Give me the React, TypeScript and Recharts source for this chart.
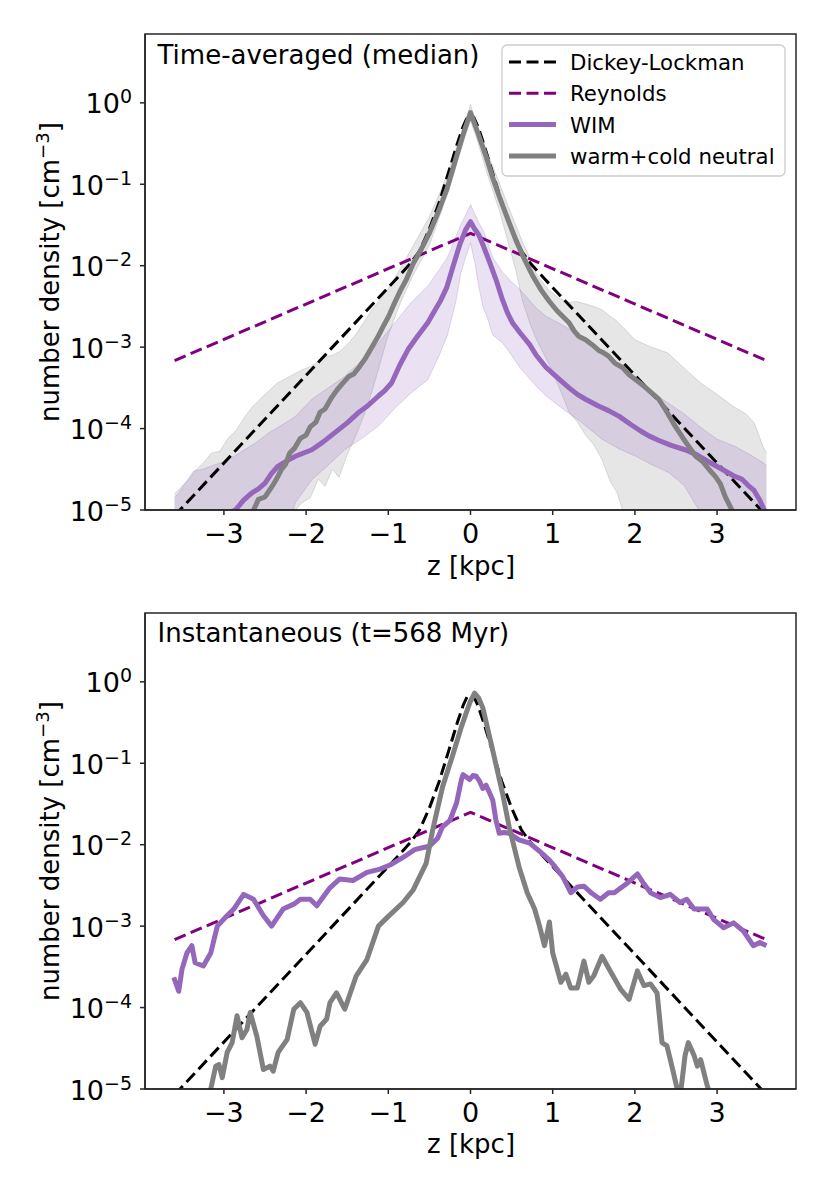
import React from 'react';
import { ComposedChart, Line, Area, XAxis, YAxis } from 'recharts';

// values: [z in kpc, log10 n in cm^-3]
const dickeyLockman = [
  [-3.6, -5.07], [-0.9, -2.16], [-0.72, -1.96], [-0.62, -1.82], [-0.5, -1.55], [-0.38, -1.22],
  [-0.26, -0.83], [-0.16, -0.5], [-0.09, -0.29], [-0.04, -0.18], [0, -0.16], [0.04, -0.18],
  [0.09, -0.29], [0.16, -0.5], [0.26, -0.83], [0.38, -1.22], [0.5, -1.55], [0.62, -1.82],
  [0.72, -1.96], [0.9, -2.16], [3.6, -5.07],
];

const reynolds = [[-3.6, -3.166], [0, -1.602], [3.6, -3.166]];

const grayMedianAvg = [
  [-3.6, -5.9], [-3.0, -5.6], [-2.64, -5.0], [-2.58, -4.87], [-2.5, -4.84], [-2.42, -4.72],
  [-2.36, -4.62], [-2.3, -4.5], [-2.25, -4.44], [-2.2, -4.3], [-2.14, -4.24], [-2.07, -4.12],
  [-2.0, -4.08], [-1.95, -3.98], [-1.88, -3.92], [-1.83, -3.8], [-1.77, -3.76], [-1.69, -3.62],
  [-1.62, -3.52], [-1.55, -3.44], [-1.48, -3.36], [-1.42, -3.33], [-1.35, -3.24], [-1.28, -3.14],
  [-1.2, -3.0], [-1.13, -2.88], [-1.07, -2.76], [-1.0, -2.63], [-0.92, -2.45], [-0.85, -2.3],
  [-0.78, -2.17], [-0.7, -1.98], [-0.6, -1.8], [-0.5, -1.6], [-0.4, -1.36], [-0.29, -1.07],
  [-0.17, -0.66], [-0.08, -0.36], [0, -0.12], [0.08, -0.34], [0.19, -0.66], [0.27, -0.92],
  [0.35, -1.15], [0.45, -1.42], [0.55, -1.68], [0.66, -1.93], [0.76, -2.13], [0.86, -2.3],
  [0.96, -2.44], [1.05, -2.55], [1.12, -2.62], [1.2, -2.7], [1.26, -2.8], [1.32, -2.87],
  [1.4, -2.91], [1.48, -2.97], [1.56, -3.04], [1.62, -3.07], [1.68, -3.11], [1.76, -3.2],
  [1.85, -3.25], [1.93, -3.34], [2.01, -3.4], [2.1, -3.47], [2.2, -3.56], [2.29, -3.64],
  [2.38, -3.78], [2.49, -3.97], [2.6, -4.14], [2.67, -4.24], [2.74, -4.34], [2.82, -4.4],
  [2.9, -4.5], [2.98, -4.59], [3.04, -4.68], [3.1, -4.84], [3.18, -5.0], [3.3, -5.3], [3.6, -5.8],
];

const wimMedianAvg = [
  [-3.6, -5.4], [-2.86, -5.0], [-2.76, -4.88], [-2.66, -4.79], [-2.58, -4.74], [-2.5, -4.67],
  [-2.42, -4.55], [-2.34, -4.46], [-2.24, -4.4], [-2.13, -4.34], [-2.03, -4.3], [-1.93, -4.26],
  [-1.8, -4.17], [-1.65, -4.05], [-1.5, -3.93], [-1.37, -3.81], [-1.25, -3.72], [-1.12, -3.6],
  [-1.04, -3.53], [-0.96, -3.44], [-0.86, -3.22], [-0.76, -3.03], [-0.64, -2.86], [-0.52, -2.7],
  [-0.44, -2.56], [-0.36, -2.42], [-0.29, -2.27], [-0.21, -2.0], [-0.13, -1.74], [-0.06, -1.56],
  [0, -1.46], [0.05, -1.55], [0.1, -1.62], [0.15, -1.74], [0.23, -1.95], [0.31, -2.17],
  [0.39, -2.42], [0.45, -2.58], [0.51, -2.7], [0.6, -2.82], [0.72, -2.97], [0.8, -3.1],
  [0.92, -3.25], [1.04, -3.36], [1.2, -3.5], [1.3, -3.58], [1.4, -3.64], [1.55, -3.72],
  [1.68, -3.78], [1.81, -3.85], [1.95, -3.95], [2.07, -4.03], [2.17, -4.09], [2.3, -4.15],
  [2.45, -4.21], [2.61, -4.26], [2.75, -4.32], [2.9, -4.41], [3.06, -4.5], [3.2, -4.58],
  [3.3, -4.62], [3.38, -4.7], [3.45, -4.76], [3.52, -4.88], [3.6, -5.06],
];

// [z, log10 low, log10 high]
const grayBandAvg = [
  [-3.6, -6.5, -4.8], [-3.5, -6.5, -4.7], [-3.42, -6.5, -4.62], [-3.35, -6.5, -4.52],
  [-3.25, -6.5, -4.42], [-3.15, -6.5, -4.3], [-3.05, -6.5, -4.28], [-2.95, -6.5, -4.12],
  [-2.85, -6.5, -4.02], [-2.75, -6.5, -3.86], [-2.65, -6.5, -3.73], [-2.5, -6.5, -3.58],
  [-2.35, -5.6, -3.44], [-2.2, -5.1, -3.36], [-2.13, -5.0, -3.32], [-2.05, -4.91, -3.28],
  [-1.95, -4.85, -3.24], [-1.85, -4.62, -3.18], [-1.77, -4.71, -3.12], [-1.68, -4.5, -3.1],
  [-1.6, -4.6, -3.06], [-1.5, -4.32, -2.97], [-1.4, -4.1, -2.85], [-1.3, -3.85, -2.7],
  [-1.2, -3.55, -2.54], [-1.1, -3.2, -2.42], [-1.0, -2.85, -2.28], [-0.85, -2.45, -2.03],
  [-0.7, -2.12, -1.76], [-0.5, -1.75, -1.4], [-0.35, -1.32, -1.05], [-0.2, -0.86, -0.64],
  [-0.08, -0.45, -0.3], [0, -0.22, -0.02], [0.08, -0.45, -0.3], [0.2, -0.86, -0.6],
  [0.35, -1.32, -0.98], [0.45, -1.68, -1.25], [0.55, -2.05, -1.5], [0.63, -2.42, -1.7],
  [0.72, -2.7, -1.9], [0.8, -2.9, -2.1], [0.95, -3.2, -2.3], [1.08, -3.5, -2.4],
  [1.2, -3.8, -2.45], [1.3, -3.92, -2.44], [1.4, -4.08, -2.47], [1.5, -4.2, -2.5],
  [1.6, -4.38, -2.54], [1.7, -4.65, -2.62], [1.78, -4.78, -2.68], [1.85, -5.0, -2.75],
  [2.0, -5.3, -2.91], [2.2, -6.5, -3.0], [2.4, -6.5, -3.07], [2.6, -6.5, -3.26],
  [2.8, -6.5, -3.44], [3.0, -6.5, -3.58], [3.2, -6.5, -3.73], [3.35, -6.5, -3.82],
  [3.45, -6.5, -3.93], [3.56, -6.5, -4.22], [3.6, -6.5, -4.3],
];

const wimBandAvg = [
  [-3.6, -6.5, -4.85], [-3.55, -6.5, -4.79], [-3.47, -6.5, -4.67], [-3.37, -6.5, -4.52],
  [-3.26, -6.5, -4.5], [-3.1, -6.5, -4.44], [-2.94, -6.5, -4.38], [-2.78, -6.5, -4.28],
  [-2.62, -6.5, -4.18], [-2.45, -6.5, -4.05], [-2.25, -5.3, -3.93], [-2.13, -4.91, -3.85],
  [-1.93, -4.63, -3.64], [-1.73, -4.45, -3.5], [-1.53, -4.26, -3.36], [-1.32, -4.12, -3.16],
  [-1.12, -3.97, -2.95], [-0.92, -3.75, -2.7], [-0.72, -3.56, -2.45], [-0.52, -3.4, -2.25],
  [-0.38, -3.1, -2.05], [-0.28, -2.85, -1.9], [-0.18, -2.45, -1.65], [-0.12, -2.1, -1.5],
  [-0.06, -1.9, -1.38], [0, -1.72, -1.25], [0.05, -1.95, -1.36], [0.1, -2.25, -1.47],
  [0.15, -2.5, -1.56], [0.21, -2.65, -1.72], [0.27, -2.85, -1.9], [0.39, -2.95, -2.08],
  [0.5, -3.1, -2.2], [0.6, -3.25, -2.29], [0.8, -3.48, -2.52], [0.92, -3.6, -2.62],
  [1.1, -3.74, -2.72], [1.32, -3.9, -2.85], [1.6, -4.13, -3.05], [1.81, -4.25, -3.24],
  [2.01, -4.34, -3.4], [2.2, -4.44, -3.55], [2.41, -4.54, -3.69], [2.6, -4.7, -3.82],
  [2.7, -4.87, -3.9], [2.78, -5.0, -3.97], [3.0, -5.3, -4.13], [3.22, -6.5, -4.22],
  [3.4, -6.5, -4.32], [3.56, -6.5, -4.42], [3.6, -6.5, -4.45],
];

const wimInst = [
  [-3.61, -3.63], [-3.55, -3.8], [-3.51, -3.53], [-3.45, -3.33], [-3.39, -3.24], [-3.35, -3.45],
  [-3.25, -3.49], [-3.16, -3.33], [-3.08, -3.0], [-2.96, -2.87], [-2.88, -2.79], [-2.76, -2.61],
  [-2.64, -2.67], [-2.52, -2.87], [-2.42, -3.0], [-2.28, -2.79], [-2.15, -2.73], [-2.07, -2.67],
  [-1.95, -2.67], [-1.87, -2.75], [-1.71, -2.53], [-1.59, -2.42], [-1.43, -2.44], [-1.26, -2.34],
  [-1.1, -2.3], [-0.98, -2.25], [-0.78, -2.13], [-0.68, -2.06], [-0.6, -2.04], [-0.5, -2.02],
  [-0.4, -1.92], [-0.34, -1.78], [-0.25, -1.7], [-0.17, -1.49], [-0.11, -1.2], [-0.09, -1.14],
  [-0.05, -1.17], [-0.01, -1.2], [0.03, -1.15], [0.07, -1.16], [0.11, -1.22], [0.15, -1.31],
  [0.19, -1.27], [0.23, -1.36], [0.27, -1.45], [0.31, -1.7], [0.35, -1.86], [0.41, -1.85],
  [0.47, -1.86], [0.59, -1.94], [0.72, -1.98], [0.84, -2.08], [0.96, -2.19], [1.02, -2.26],
  [1.12, -2.39], [1.22, -2.59], [1.3, -2.52], [1.38, -2.51], [1.48, -2.6], [1.58, -2.67],
  [1.68, -2.59], [1.75, -2.59], [1.91, -2.47], [2.03, -2.36], [2.11, -2.48], [2.19, -2.59],
  [2.31, -2.65], [2.43, -2.61], [2.55, -2.71], [2.63, -2.67], [2.72, -2.79], [2.88, -2.79],
  [2.96, -2.92], [3.08, -3.02], [3.2, -2.96], [3.32, -3.06], [3.44, -3.24], [3.52, -3.2],
  [3.6, -3.24],
];

const grayInst = [
  [-3.6, -5.6], [-3.2, -5.3], [-3.16, -5.0], [-3.1, -4.72], [-3.06, -4.7], [-3.02, -4.86],
  [-2.96, -4.55], [-2.9, -4.43], [-2.84, -4.1], [-2.78, -4.37], [-2.72, -4.27], [-2.68, -4.06],
  [-2.6, -4.35], [-2.52, -4.76], [-2.44, -4.72], [-2.4, -4.78], [-2.34, -4.55], [-2.23, -4.39],
  [-2.15, -4.02], [-2.07, -3.94], [-1.99, -4.06], [-1.89, -4.45], [-1.83, -4.23], [-1.75, -4.14],
  [-1.71, -3.94], [-1.63, -3.82], [-1.53, -4.02], [-1.39, -3.61], [-1.26, -3.41], [-1.12, -3.0],
  [-1.0, -2.88], [-0.82, -2.71], [-0.7, -2.56], [-0.54, -2.23], [-0.46, -1.82], [-0.34, -1.29],
  [-0.21, -0.88], [-0.11, -0.55], [-0.01, -0.26], [0.05, -0.14], [0.1, -0.2], [0.15, -0.32],
  [0.27, -0.84], [0.39, -1.37], [0.47, -1.78], [0.59, -2.27], [0.69, -2.59], [0.78, -2.79],
  [0.84, -3.0], [0.9, -3.24], [0.96, -2.95], [1.0, -3.33], [1.1, -3.69], [1.16, -3.59],
  [1.22, -3.76], [1.3, -3.76], [1.38, -3.43], [1.44, -3.69], [1.5, -3.61], [1.6, -3.37],
  [1.71, -3.57], [1.83, -3.78], [1.93, -3.9], [2.03, -3.55], [2.11, -3.73], [2.19, -3.71],
  [2.27, -3.82], [2.33, -4.43], [2.39, -4.47], [2.45, -4.72], [2.51, -4.98], [2.55, -5.1],
  [2.61, -4.59], [2.65, -4.43], [2.72, -4.59], [2.76, -4.72], [2.8, -4.64], [2.88, -4.96],
  [3.0, -5.3], [3.6, -5.6],
];

const zTicks = [-3, -2, -1, 0, 1, 2, 3];
const nTicks = [1e-5, 1e-4, 1e-3, 1e-2, 1e-1, 1];
const minorMantissas = [2, 3, 4, 5, 6, 7, 8, 9];
const nMinorTicks = nTicks.flatMap((d) => minorMantissas.map((m) => m * d)).filter((v) => v <= 7);
const legendLabels = ['Dickey-Lockman', 'Reynolds', 'WIM', 'warm+cold neutral'];

const FONT = '"DejaVu Sans", Verdana, sans-serif';
const AX = '#262626';
const W = 830;
const H = 593;
const Z_DOMAIN = [-3.96, 3.96];
const N_DOMAIN = [1e-5, 7];

const toRows = (pts: number[][]) => pts.map(([z, lg]) => ({ z, n: Math.pow(10, lg) }));
const toBand = (pts: number[][]) =>
  pts.map(([z, lo, hi]) => ({ z, range: [Math.pow(10, lo), Math.pow(10, hi)] }));

const fmtZ = (v: number) => (v < 0 ? `\u2212${-v}` : `${v}`);

const LogTick = (props: any) => {
  const { x, y, payload } = props;
  const e = Math.round(Math.log10(payload.value));
  const sup = e < 0 ? `\u2212${-e}` : `${e}`;
  return (
    <text x={x - 6} y={y} textAnchor="end" fontFamily={FONT} fill="#000">
      <tspan fontSize={27} dy={10.5}>10</tspan>
      <tspan fontSize={19} dy={-10}>{sup}</tspan>
    </text>
  );
};

const styles = {
  dl: { stroke: '#000000', strokeWidth: 3, strokeDasharray: '12 5.5' },
  rey: { stroke: '#800080', strokeWidth: 3, strokeDasharray: '12 5.5' },
  wim: { stroke: '#9467bd', strokeWidth: 5 },
  gray: { stroke: '#808080', strokeWidth: 5 },
};

const dlRows = toRows(dickeyLockman);
const reyRows = toRows(reynolds);

function Panel({ top, gray, wim, grayBand, wimBand }: any) {
  const axisLine = { stroke: AX, strokeWidth: 1.5 };
  return (
    <div style={{ position: 'absolute', left: 0, top, width: W, height: H }}>
      <ComposedChart width={W} height={H} margin={{ top: 34, right: 34, bottom: 43, left: 65 }}>
        <XAxis
          xAxisId="x"
          type="number"
          dataKey="z"
          domain={Z_DOMAIN}
          allowDataOverflow
          ticks={zTicks}
          height={40}
          tickSize={5}
          tickMargin={9}
          tickFormatter={fmtZ}
          axisLine={axisLine}
          tickLine={axisLine}
          tick={{ fontSize: 27, fill: '#000', fontFamily: FONT }}
        />
        <YAxis
          yAxisId="ym"
          scale="log"
          domain={N_DOMAIN}
          allowDataOverflow
          ticks={nMinorTicks}
          width={0}
          tickSize={3}
          axisLine={false}
          tickLine={{ stroke: AX, strokeWidth: 1.1 }}
          tick={() => <g />}
        />
        <YAxis
          yAxisId="y"
          scale="log"
          domain={N_DOMAIN}
          allowDataOverflow
          ticks={nTicks}
          width={80}
          tickSize={5}
          axisLine={axisLine}
          tickLine={axisLine}
          tick={<LogTick />}
        />
        {grayBand && (
          <Area
            xAxisId="x"
            yAxisId="y"
            data={grayBand}
            dataKey="range"
            type="linear"
            fill="#808080"
            fillOpacity={0.2}
            stroke="#808080"
            strokeOpacity={0.25}
            strokeWidth={1}
            dot={false}
            activeDot={false}
            isAnimationActive={false}
          />
        )}
        {wimBand && (
          <Area
            xAxisId="x"
            yAxisId="y"
            data={wimBand}
            dataKey="range"
            type="linear"
            fill="#9467bd"
            fillOpacity={0.2}
            stroke="#9467bd"
            strokeOpacity={0.25}
            strokeWidth={1}
            dot={false}
            activeDot={false}
            isAnimationActive={false}
          />
        )}
        <Line xAxisId="x" yAxisId="y" data={dlRows} dataKey="n" type="linear" {...styles.dl}
          dot={false} activeDot={false} isAnimationActive={false} />
        <Line xAxisId="x" yAxisId="y" data={reyRows} dataKey="n" type="linear" {...styles.rey}
          dot={false} activeDot={false} isAnimationActive={false} />
        <Line xAxisId="x" yAxisId="y" data={wim} dataKey="n" type="linear" {...styles.wim}
          strokeLinejoin="round" dot={false} activeDot={false} isAnimationActive={false} />
        <Line xAxisId="x" yAxisId="y" data={gray} dataKey="n" type="linear" {...styles.gray}
          strokeLinejoin="round" dot={false} activeDot={false} isAnimationActive={false} />
      </ComposedChart>
    </div>
  );
}

const YLabel = ({ cy }: { cy: number }) => (
  <text transform={`translate(58.5 ${cy}) rotate(-90)`} textAnchor="middle" fontSize={26} fill="#000">
    number density [cm
    <tspan dy={-9.5} fontSize={18.2}>{'\u22123'}</tspan>
    <tspan dy={9.5}>]</tspan>
  </text>
);

export default function App() {
  const legendStyles = [styles.dl, styles.rey, styles.wim, styles.gray];
  return (
    <div style={{ position: 'absolute', left: 0, top: 0, width: 830, height: 1186, background: '#fff' }}>
      <Panel
        top={0}
        gray={toRows(grayMedianAvg)}
        wim={toRows(wimMedianAvg)}
        grayBand={toBand(grayBandAvg)}
        wimBand={toBand(wimBandAvg)}
      />
      <Panel top={579} gray={toRows(grayInst)} wim={toRows(wimInst)} />
      <svg
        width={830}
        height={1186}
        style={{ position: 'absolute', left: 0, top: 0, pointerEvents: 'none' }}
        fontFamily={FONT}
      >
        {/* axes frames */}
        <rect x={145} y={34} width={651} height={476} fill="none" stroke={AX} strokeWidth={1.5} />
        <rect x={145} y={613} width={651} height={476} fill="none" stroke={AX} strokeWidth={1.5} />
        <text x={157.5} y={64} fontSize={26} fill="#000">Time-averaged (median)</text>
        <text x={157.5} y={642} fontSize={26} fill="#000">Instantaneous (t=568 Myr)</text>
        <YLabel cy={272} />
        <YLabel cy={851} />
        <text x={471} y={574.5} textAnchor="middle" fontSize={26} fill="#000">z [kpc]</text>
        <text x={471} y={1153} textAnchor="middle" fontSize={26} fill="#000">z [kpc]</text>
        <rect x={502} y={45} width={283} height={131} rx={5} fill="#fff" fillOpacity={0.8}
          stroke="#cccccc" strokeWidth={1.3} />
        {legendLabels.map((label, i) => {
          const yl = 62 + i * 31.3;
          const st: any = legendStyles[i];
          return (
            <g key={label}>
              <line x1={509} x2={556} y1={yl} y2={yl} stroke={st.stroke} strokeWidth={st.strokeWidth}
                strokeDasharray={st.strokeDasharray} />
              <text x={570} y={yl + 8} fontSize={21.3} fill="#000">{label}</text>
            </g>
          );
        })}
      </svg>
    </div>
  );
}
